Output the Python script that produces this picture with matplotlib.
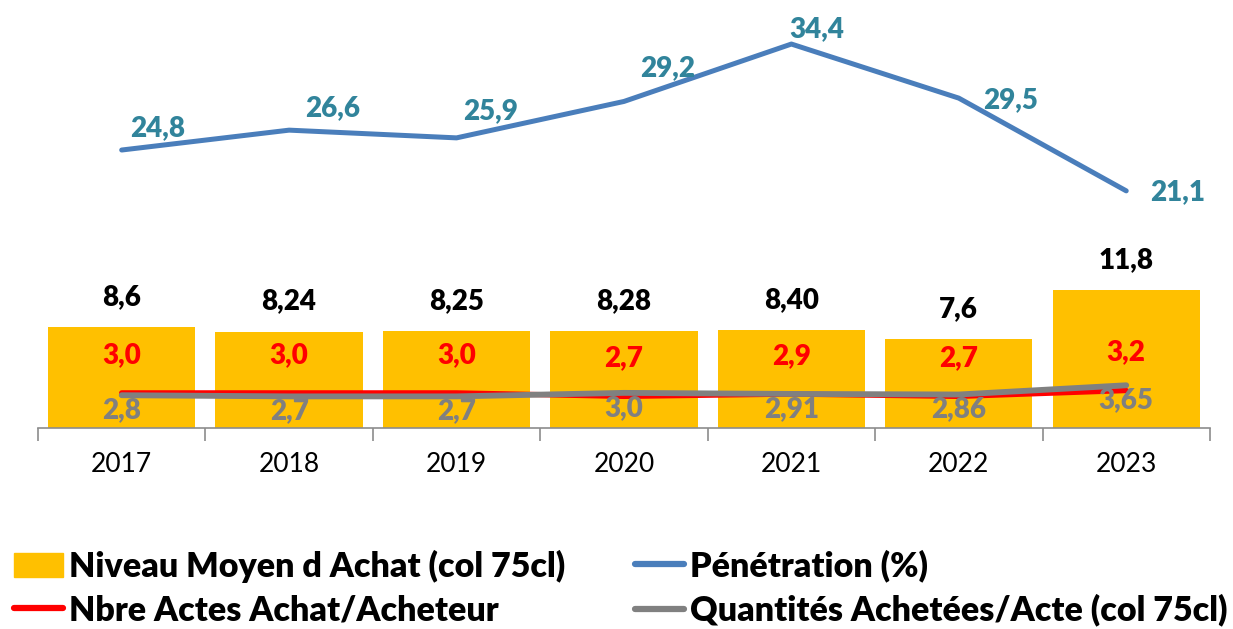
import numpy as np
import matplotlib
matplotlib.use('Agg')
import matplotlib.pyplot as plt
from matplotlib import font_manager as fm
from matplotlib.patches import Patch
from matplotlib.lines import Line2D

# pick a family that ships a real bold face
FAMILY = 'DejaVu Sans'
for fam in ['Lato', 'Open Sans', 'Noto Sans', 'Roboto', 'Liberation Sans']:
    if any(f.name == fam and (f.weight == 'bold' or (isinstance(f.weight, int) and f.weight >= 600))
           for f in fm.fontManager.ttflist):
        FAMILY = fam
        break
plt.rcParams['font.family'] = [FAMILY, 'DejaVu Sans']
W = 'heavy'

# ── Data ───────────────────────────────────────────────────────────
years = ['2017', '2018', '2019', '2020', '2021', '2022', '2023']
niveau = [8.6, 8.24, 8.25, 8.28, 8.40, 7.6, 11.8]
niveau_txt = ['8,6', '8,24', '8,25', '8,28', '8,40', '7,6', '11,8']
penetration = [24.8, 26.6, 25.9, 29.2, 34.4, 29.5, 21.1]
penetration_txt = ['24,8', '26,6', '25,9', '29,2', '34,4', '29,5', '21,1']
actes = [3.0, 3.0, 3.0, 2.7, 2.9, 2.7, 3.2]
actes_txt = ['3,0', '3,0', '3,0', '2,7', '2,9', '2,7', '3,2']
quantites = [2.8, 2.7, 2.7, 3.0, 2.91, 2.86, 3.65]
quantites_txt = ['2,8', '2,7', '2,7', '3,0', '2,91', '2,86', '3,65']

# label offsets (pixels) for the penetration values
pen_off = [(36, 22), (44, 22), (34, 27), (44, 33), (25, 15), (52, -2), (51, -1)]

C_BAR = '#FFC000'
C_PEN = '#4A7EBB'
C_PEN_TXT = '#31849B'
C_RED = '#FF0000'
C_GRAY = '#808080'
LBL = 20

fig = plt.figure(figsize=(12.33, 6.29), dpi=100)
ax = fig.add_axes([0.0308, 0.3196, 0.9505, 0.6804])
ax2 = ax.twinx()

x = np.arange(len(years))
ax.bar(x, niveau, width=0.88, color=C_BAR, zorder=1)
ax.plot(x, actes, color=C_RED, lw=3.8, solid_capstyle='round', zorder=3)
ax.plot(x, quantites, color=C_GRAY, lw=4.2, solid_capstyle='round', zorder=4)
ax2.plot(x, penetration, color=C_PEN, lw=3.6, solid_capstyle='round')

ax.set_xlim(-0.5, len(years) - 0.5)
ax.set_ylim(0, 36.58)
ax2.set_ylim(-0.38, 38.39)

for i in x:
    ax.annotate(niveau_txt[i], (i, niveau[i]), xytext=(0, 30), textcoords='offset pixels',
                ha='center', va='center', fontsize=LBL, fontweight=W, color='black')
    ax.annotate(actes_txt[i], (i, actes[i]), xytext=(0, 38), textcoords='offset pixels',
                ha='center', va='center', fontsize=LBL, fontweight=W, color=C_RED)
    ax.annotate(quantites_txt[i], (i, quantites[i]), xytext=(0, -15), textcoords='offset pixels',
                ha='center', va='center', fontsize=LBL, fontweight=W, color=C_GRAY, zorder=5)
    ax2.annotate(penetration_txt[i], (i, penetration[i]), xytext=pen_off[i],
                 textcoords='offset pixels', ha='center', va='center',
                 fontsize=LBL, fontweight=W, color=C_PEN_TXT)

# axes cosmetics
for s in ('top', 'left', 'right'):
    ax.spines[s].set_visible(False)
    ax2.spines[s].set_visible(False)
ax2.spines['bottom'].set_visible(False)
ax.spines['bottom'].set_color('#8C8C8C')
ax.spines['bottom'].set_linewidth(1.2)
ax.set_yticks([])
ax2.set_yticks([])
ax.set_xticks(x)
ax.set_xticklabels(years, fontsize=19)
ax.tick_params(axis='x', which='major', length=0, pad=17)
ax.set_xticks(np.arange(-0.5, len(years)), minor=True)
ax.tick_params(axis='x', which='minor', length=9, width=1.2, color='#8C8C8C', direction='out')

# legend: two columns placed separately
leg_kw = dict(loc='center left', frameon=False, prop={'size': 24.5, 'weight': W},
              handlelength=1.45, handletextpad=0.18, labelspacing=0.33,
              borderpad=0, borderaxespad=0)
fig.legend([Patch(color=C_BAR),
            Line2D([], [], color=C_RED, lw=4.5, solid_capstyle='round')],
           ['Niveau Moyen d Achat (col 75cl)', 'Nbre Actes Achat/Acheteur'],
           bbox_to_anchor=(14 / 1233, 1 - 588 / 629), **leg_kw)
fig.legend([Line2D([], [], color=C_PEN, lw=4.5, solid_capstyle='round'),
            Line2D([], [], color=C_GRAY, lw=4.5, solid_capstyle='round')],
           ['Pénétration (%)', 'Quantités Achetées/Acte (col 75cl)'],
           bbox_to_anchor=(635 / 1233, 1 - 588 / 629), **leg_kw)

fig.savefig('out.png', dpi=100)
